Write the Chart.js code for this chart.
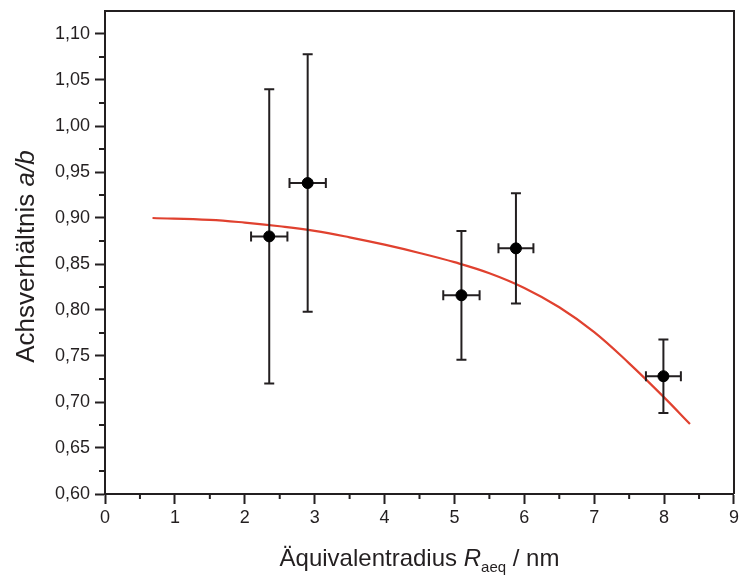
<!DOCTYPE html>
<html>
<head>
<meta charset="utf-8">
<script src="https://cdn.jsdelivr.net/npm/chart.js@4"></script>
<style>
  html, body { margin: 0; padding: 0; background: #fff; }
  #wrap { width: 742px; height: 579px; }
</style>
</head>
<body>
<div id="wrap"><canvas id="c" width="742" height="579"></canvas></div>
<script>
// measured points (Raeq / nm vs a/b) with error bars
const radius = [2.35, 2.90, 5.10, 5.88, 7.99];
const ratio = [0.880, 0.938, 0.816, 0.867, 0.728];
const radiusErr = [0.26, 0.26, 0.26, 0.25, 0.25];
const ratioErr = [0.160, 0.140, 0.070, 0.060, 0.040];

// fit curve
const fitX = [0.68, 1.5, 2.0, 2.5, 3.0, 3.5, 4.0, 4.5, 5.0, 5.5, 6.0, 6.5, 7.0, 7.5, 8.0, 8.37];
const fitY = [0.900, 0.898, 0.895, 0.891, 0.886, 0.879, 0.871, 0.862, 0.852, 0.840, 0.824, 0.803, 0.776, 0.742, 0.705, 0.676];

const ink = '#231f20';
const red = '#e0412f';
const font = "'Liberation Sans', Arial, sans-serif";

const isMajorY = v => Math.round(v * 1000) % 50 === 0;
const isMajorX = v => Math.round(v * 10) % 10 === 0;

// short minor ticks, box frame, error bars, axis titles
const extras = {
  id: 'extras',
  afterDatasetDraw(chart, args) {
    if (args.index !== 0) return;
    const ctx = chart.ctx, xs = chart.scales.x, ys = chart.scales.y;
    ctx.save();
    ctx.strokeStyle = ink;
    ctx.lineWidth = 2;
    const cap = 5;
    for (let i = 0; i < radius.length; i++) {
      const px = xs.getPixelForValue(radius[i]);
      const py = ys.getPixelForValue(ratio[i]);
      const top = ys.getPixelForValue(ratio[i] + ratioErr[i]);
      const bot = ys.getPixelForValue(ratio[i] - ratioErr[i]);
      const l = xs.getPixelForValue(radius[i] - radiusErr[i]);
      const r = xs.getPixelForValue(radius[i] + radiusErr[i]);
      ctx.beginPath();
      ctx.moveTo(px, top); ctx.lineTo(px, bot);
      ctx.moveTo(px - cap, top); ctx.lineTo(px + cap, top);
      ctx.moveTo(px - cap, bot); ctx.lineTo(px + cap, bot);
      ctx.moveTo(l, py); ctx.lineTo(r, py);
      ctx.moveTo(l, py - cap); ctx.lineTo(l, py + cap);
      ctx.moveTo(r, py - cap); ctx.lineTo(r, py + cap);
      ctx.stroke();
    }
    ctx.restore();
  },
  afterDraw(chart) {
    const ctx = chart.ctx, a = chart.chartArea;
    const xs = chart.scales.x, ys = chart.scales.y;
    ctx.save();
    ctx.strokeStyle = ink;
    ctx.lineWidth = 2;
    ctx.beginPath();
    ctx.moveTo(a.left, a.top); ctx.lineTo(a.right, a.top); ctx.lineTo(a.right, a.bottom);
    xs.ticks.forEach(t => {
      if (isMajorX(t.value)) return;
      const p = xs.getPixelForValue(t.value);
      ctx.moveTo(p, a.bottom); ctx.lineTo(p, a.bottom + 5);
    });
    ys.ticks.forEach(t => {
      if (isMajorY(t.value) || t.value >= ys.max) return;
      const p = ys.getPixelForValue(t.value);
      ctx.moveTo(a.left, p); ctx.lineTo(a.left - 6, p);
    });
    ctx.stroke();

    ctx.fillStyle = ink;
    ctx.textBaseline = 'alphabetic';
    // x title
    const xt = [
      {t: 'Äquivalentradius ', f: '24px ' + font, dy: 0},
      {t: 'R', f: 'italic 24px ' + font, dy: 0},
      {t: 'aeq', f: '15px ' + font, dy: 6},
      {t: ' / nm', f: '24px ' + font, dy: 0}
    ];
    let w = 0;
    xt.forEach(s => { ctx.font = s.f; w += ctx.measureText(s.t).width; });
    let x = (a.left + a.right) / 2 - w / 2;
    xt.forEach(s => { ctx.font = s.f; ctx.fillText(s.t, x, 566 + s.dy); x += ctx.measureText(s.t).width; });
    // y title
    const yt = [
      {t: 'Achsverhältnis ', f: '26px ' + font},
      {t: 'a/b', f: 'italic 26px ' + font}
    ];
    w = 0;
    yt.forEach(s => { ctx.font = s.f; w += ctx.measureText(s.t).width; });
    ctx.translate(34, (a.top + a.bottom) / 2 + 4);
    ctx.rotate(-Math.PI / 2);
    x = -w / 2;
    yt.forEach(s => { ctx.font = s.f; ctx.fillText(s.t, x, 0); x += ctx.measureText(s.t).width; });
    ctx.restore();
  }
};

new Chart(document.getElementById('c'), {
  type: 'scatter',
  data: {
    datasets: [
      {
        label: 'fit',
        data: fitX.map((x, i) => ({x: x, y: fitY[i]})),
        showLine: true,
        borderColor: red,
        borderWidth: 2.2,
        pointRadius: 0,
        tension: 0.4,
        order: 1
      },
      {
        label: 'a/b',
        data: radius.map((x, i) => ({x: x, y: ratio[i]})),
        backgroundColor: '#000',
        borderColor: '#000',
        pointRadius: 5.5,
        order: 0
      }
    ]
  },
  options: {
    responsive: false,
    animation: false,
    layout: {padding: {left: 0, right: 6, top: 11, bottom: 0}},
    plugins: {legend: {display: false}, tooltip: {enabled: false}},
    scales: {
      x: {
        type: 'linear',
        min: 0, max: 9,
        afterFit: s => { s.height = 85; },
        border: {color: ink, width: 2},
        grid: {
          drawOnChartArea: false,
          tickLength: 10,
          tickWidth: 2,
          tickColor: c => isMajorX(c.tick.value) ? ink : 'rgba(0,0,0,0)'
        },
        ticks: {
          stepSize: 0.5,
          autoSkip: false,
          maxRotation: 0,
          padding: 3,
          color: ink,
          font: {family: font, size: 18},
          callback: v => isMajorX(v) ? String(Math.round(v)) : ''
        }
      },
      y: {
        type: 'linear',
        min: 0.6, max: 1.125,
        afterFit: s => { s.width = 105; s.paddingTop = 0; },
        border: {color: ink, width: 2},
        grid: {
          drawOnChartArea: false,
          tickLength: 10,
          tickWidth: 2,
          tickColor: c => isMajorY(c.tick.value) ? ink : 'rgba(0,0,0,0)'
        },
        ticks: {
          stepSize: 0.025,
          autoSkip: false,
          padding: 5,
          color: ink,
          font: {family: font, size: 18},
          callback: v => isMajorY(v) ? v.toFixed(2).replace('.', ',') : ''
        }
      }
    }
  },
  plugins: [extras]
});
</script>
</body>
</html>
